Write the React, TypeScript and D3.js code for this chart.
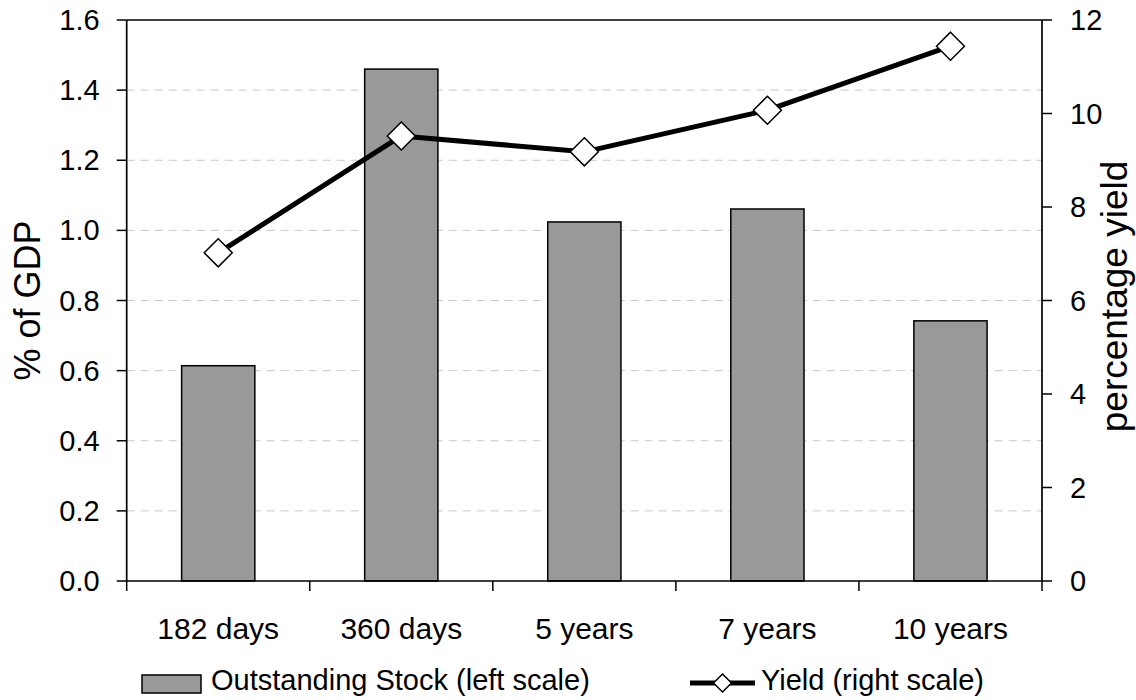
import React from "react";
import * as d3 from "d3";

const categories = ["182 days", "360 days", "5 years", "7 years", "10 years"];
const stockValues = [0.614, 1.46, 1.024, 1.061, 0.742];
const yieldValues = [7.02, 9.52, 9.18, 10.07, 11.44];
const leftTicks = [0, 0.2, 0.4, 0.6, 0.8, 1.0, 1.2, 1.4, 1.6];
const rightTicks = [0, 2, 4, 6, 8, 10, 12];
const legendLabels = ["Outstanding Stock (left scale)", "Yield (right scale)"];

const W = 1136;
const H = 700;
const L = 126.7;
const R = 1042;
const T = 20;
const B = 581;
const FONT = "'Liberation Sans', Arial, sans-serif";

export default function App() {
  const x = d3.scaleBand<string>().domain(categories).range([L, R]).paddingInner(0).paddingOuter(0);
  const yL = d3.scaleLinear().domain([0, 1.6]).range([B, T]);
  const yR = d3.scaleLinear().domain([0, 12]).range([B, T]);
  const bw = x.bandwidth() * 0.4;
  const cx = (c: string) => (x(c) as number) + x.bandwidth() / 2;
  const line = d3
    .line<number>()
    .x((_, i) => cx(categories[i]))
    .y((d) => yR(d));
  const diamond = (px: number, py: number, r: number) =>
    `M${px},${py - r}L${px + r},${py}L${px},${py + r}L${px - r},${py}Z`;
  const boundaries = categories.map((c) => x(c) as number).concat([R]);

  return (
    <svg
      width={W}
      height={H}
      style={{ position: "absolute", left: 0, top: 0, background: "#fff" }}
      fontFamily={FONT}
    >
      <rect x={0} y={0} width={W} height={H} fill="#fff" />
      {/* gridlines */}
      {leftTicks
        .filter((t) => t > 0 && t < 1.6)
        .map((t) => (
          <line
            key={"g" + t}
            x1={L}
            x2={R}
            y1={yL(t)}
            y2={yL(t)}
            stroke="#c8c8c8"
            strokeWidth={1}
            strokeDasharray="8,6"
          />
        ))}
      {/* bars */}
      {categories.map((c, i) => (
        <rect
          key={"b" + c}
          x={cx(c) - bw / 2}
          y={yL(stockValues[i])}
          width={bw}
          height={B - yL(stockValues[i])}
          fill="#999999"
          stroke="#000"
          strokeWidth={1.5}
        />
      ))}
      {/* frame */}
      <line x1={L} x2={R} y1={T} y2={T} stroke="#000" strokeWidth={1.7} />
      <line x1={L} x2={R} y1={B} y2={B} stroke="#000" strokeWidth={1.7} />
      <line x1={L} x2={L} y1={T} y2={B} stroke="#000" strokeWidth={1.7} />
      <line x1={R} x2={R} y1={T} y2={B} stroke="#000" strokeWidth={1.7} />
      {/* left ticks */}
      {leftTicks.map((t) => (
        <g key={"lt" + t}>
          <line x1={L - 10} x2={L} y1={yL(t)} y2={yL(t)} stroke="#000" strokeWidth={1.5} />
          <text x={L - 27} y={yL(t)} textAnchor="end" dominantBaseline="central" fontSize={29}>
            {t.toFixed(1)}
          </text>
        </g>
      ))}
      {/* right ticks */}
      {rightTicks.map((t) => (
        <g key={"rt" + t}>
          <line x1={R} x2={R + 10} y1={yR(t)} y2={yR(t)} stroke="#000" strokeWidth={1.5} />
          <text x={R + 28} y={yR(t)} textAnchor="start" dominantBaseline="central" fontSize={29}>
            {t}
          </text>
        </g>
      ))}
      {/* x ticks */}
      {boundaries.map((b, i) => (
        <line key={"xt" + i} x1={b} x2={b} y1={B} y2={B + 10} stroke="#000" strokeWidth={1.5} />
      ))}
      {categories.map((c) => (
        <text key={"xl" + c} x={cx(c)} y={639} textAnchor="middle" fontSize={30}>
          {c}
        </text>
      ))}
      {/* line */}
      <path d={line(yieldValues) || ""} fill="none" stroke="#000" strokeWidth={5} strokeLinejoin="round" />
      {yieldValues.map((v, i) => (
        <path
          key={"m" + i}
          d={diamond(cx(categories[i]), yR(v), 14)}
          fill="#fff"
          stroke="#000"
          strokeWidth={1.5}
        />
      ))}
      {/* axis titles */}
      <text
        transform={`translate(40,${(T + B) / 2}) rotate(-90)`}
        textAnchor="middle"
        fontSize={36}
      >
        % of GDP
      </text>
      <text
        transform={`translate(1127,${(T + B) / 2 - 4}) rotate(-90)`}
        textAnchor="middle"
        fontSize={37}
      >
        percentage yield
      </text>
      {/* legend */}
      <rect x={142} y={675} width={59} height={18} fill="#999999" stroke="#000" strokeWidth={1.5} />
      <text x={211} y={690} fontSize={29}>
        {legendLabels[0]}
      </text>
      <line x1={690} x2={755} y1={683} y2={683} stroke="#000" strokeWidth={5} />
      <path d={diamond(722.5, 683, 9)} fill="#fff" stroke="#000" strokeWidth={1.5} />
      <text x={761} y={690} fontSize={29}>
        {legendLabels[1]}
      </text>
    </svg>
  );
}
